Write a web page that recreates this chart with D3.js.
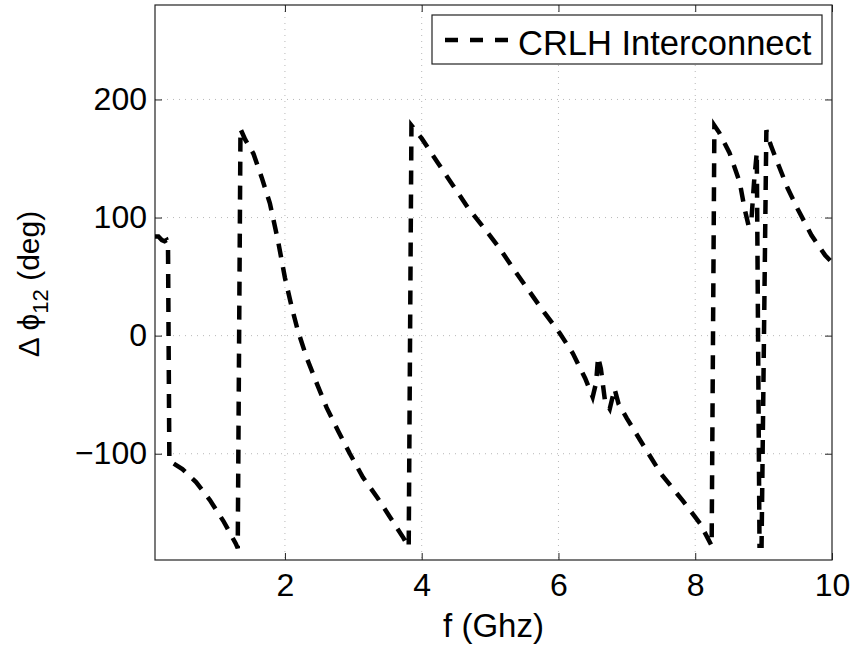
<!DOCTYPE html>
<html>
<head>
<meta charset="utf-8">
<script src="https://cdn.jsdelivr.net/npm/d3@7"></script>
<style>
  body { margin: 0; background: #fff; }
  text { font-family: Arial, "Liberation Sans", sans-serif; }
</style>
</head>
<body>
<div id="chart"></div>
<script>
// frequency (GHz) and phase difference (deg)
const freq = [0.10, 0.15, 0.20, 0.24, 0.27, 0.29, 0.31, 0.50, 0.70, 0.90, 1.10, 1.28, 1.31,
  1.35, 1.42, 1.54, 1.66, 1.78, 1.90, 2.00, 2.10, 2.19, 2.32, 2.47, 2.61, 2.78, 2.95, 3.14, 3.35, 3.54, 3.73, 3.81,
  3.85, 4.00, 4.24, 4.46, 4.68, 4.90, 5.14, 5.36, 5.58, 5.80, 6.02, 6.21, 6.39, 6.50, 6.55, 6.58, 6.62, 6.68, 6.75, 6.82, 6.88,
  7.00, 7.20, 7.50, 7.82, 8.07, 8.24,
  8.28, 8.35, 8.50, 8.65, 8.72, 8.78, 8.82, 8.86, 8.90, 8.94, 8.97,
  9.04, 9.10, 9.20, 9.35, 9.50, 9.70, 9.90, 10.0];
const phase = [84, 84, 81, 80, 81, 78, -106, -113, -124, -139, -157, -176, -180,
  175, 166, 154, 134, 112, 80, 49, 24, 4, -19, -41, -61, -81, -100, -120, -137, -154, -171, -179,
  178, 167, 146, 127, 108, 92, 74, 55, 37, 19, 2, -15, -36, -52, -40, -18, -28, -55, -62, -45, -58,
  -70, -89, -117, -140, -159, -178,
  178, 172, 155, 130, 108, 93, 97, 130, 155, -178, -178,
  174, 162, 147, 125, 107, 85, 68, 62];
const xTicks = [2, 4, 6, 8, 10];
const yTicks = [-100, 0, 100, 200];
const legendLabel = "CRLH Interconnect";

const W = 856, H = 649;
const margin = {top: 5, right: 24, bottom: 89, left: 155};
const width = W - margin.left - margin.right;
const height = H - margin.top - margin.bottom;

const svg = d3.select("#chart").append("svg")
  .attr("width", W).attr("height", H);
const g = svg.append("g")
  .attr("transform", "translate(" + margin.left + "," + margin.top + ")");

const x = d3.scaleLinear().domain([0.1, 10]).range([0, width]);
const y = d3.scaleLinear().domain([-190, 280]).range([height, 0]);

// dotted grid
g.append("g").selectAll("line")
  .data(xTicks.filter(d => d < 10))
  .enter().append("line")
  .attr("x1", d => x(d)).attr("x2", d => x(d))
  .attr("y1", 0).attr("y2", height)
  .attr("stroke", "#b8b8b8").attr("stroke-width", 1).attr("stroke-dasharray", "1,5");
g.append("g").selectAll("line")
  .data(yTicks)
  .enter().append("line")
  .attr("x1", 0).attr("x2", width)
  .attr("y1", d => y(d)).attr("y2", d => y(d))
  .attr("stroke", "#b8b8b8").attr("stroke-width", 1).attr("stroke-dasharray", "1,5");

// axes with inward ticks
const tickLen = 7;
const xAxis = g.append("g").attr("transform", "translate(0," + height + ")")
  .call(d3.axisBottom(x).tickValues(xTicks).tickSizeInner(-tickLen).tickSizeOuter(0).tickPadding(13));
const yAxis = g.append("g")
  .call(d3.axisLeft(y).tickValues(yTicks).tickSizeInner(-tickLen).tickSizeOuter(0).tickPadding(8)
    .tickFormat(d => d < 0 ? "\u2212" + Math.abs(d) : d));
g.append("g").call(d3.axisTop(x).tickValues(xTicks).tickSizeInner(-tickLen).tickSizeOuter(0).tickFormat(""));
g.append("g").attr("transform", "translate(" + width + ",0)")
  .call(d3.axisRight(y).tickValues(yTicks).tickSizeInner(-tickLen).tickSizeOuter(0).tickFormat(""));
g.selectAll(".domain").remove();
g.selectAll(".tick line").attr("stroke", "#222");
[xAxis, yAxis].forEach(a => a.selectAll("text")
  .attr("font-size", 32).attr("fill", "#000")
  .attr("font-family", "Arial, 'Liberation Sans', sans-serif"));

g.append("rect").attr("width", width).attr("height", height)
  .attr("fill", "none").attr("stroke", "#222").attr("stroke-width", 1.2);

// the curve
const data = freq.map((f, i) => ({f: f, p: phase[i]}));
const line = d3.line().x(d => x(d.f)).y(d => y(d.p));
g.append("path").datum(data)
  .attr("d", line)
  .attr("fill", "none").attr("stroke", "#000")
  .attr("stroke-width", 4.5).attr("stroke-dasharray", "14,10");

// legend
const lg = svg.append("g").attr("transform", "translate(432,15)");
lg.append("rect").attr("width", 390).attr("height", 49)
  .attr("fill", "#fff").attr("stroke", "#222").attr("stroke-width", 1.2);
lg.append("line").attr("x1", 13).attr("x2", 80).attr("y1", 25).attr("y2", 25)
  .attr("stroke", "#000").attr("stroke-width", 4.5).attr("stroke-dasharray", "13,12");
lg.append("text").attr("x", 86).attr("y", 40).attr("font-size", 34.5).text(legendLabel);

// axis labels
svg.append("text").attr("x", margin.left + width / 2).attr("y", 637)
  .attr("text-anchor", "middle").attr("font-size", 33).text("f (Ghz)");
const yl = svg.append("text")
  .attr("transform", "translate(39,284) rotate(-90)")
  .attr("text-anchor", "middle").attr("font-size", 30);
yl.append("tspan").text("\u0394 \u03d5");
yl.append("tspan").attr("dy", 9).attr("font-size", 22).text("12");
yl.append("tspan").attr("dy", -9).text(" (deg)");
</script>
</body>
</html>
